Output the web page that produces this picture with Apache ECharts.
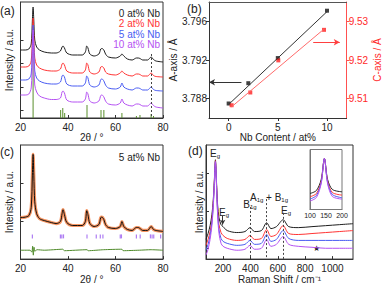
<!DOCTYPE html>
<html><head><meta charset="utf-8">
<script src="https://cdn.jsdelivr.net/npm/echarts@6/dist/echarts.min.js"></script>
<style>html,body{margin:0;padding:0;background:#fff}#c{width:383px;height:285px}</style>
</head><body><div id="c"></div>
<script>
// ---------- Panel (a): XRD patterns ----------
const twoTheta = [20,22,23.5,24.5,25,25.3,25.6,26,26.8,28,30,33,35,36.8,37.5,37.9,38.5,39.5,42,46,47.3,47.9,48.4,49.2,51,53,53.8,54.3,55.1,55.8,57,60,62,62.7,63.5,65,67,68.8,69.6,70.3,71.5,73.5,75,76,77,80];
const xrd0  = [68,68,69,74,98,111,98,78,71,68,66,65,65,67,71,72,70,65,63,63,66,72,70,64,62,64,69,69.5,68,64,61,60,62,64,62,59,58,60,60,59.5,58,58,61,58.5,57,56];
const xrd2  = [51,51,52,57,82,100,82,60,53,50,48,47,47,49,54,55,53,47,45,45,48,55,53,46,44,46,51,51.5,50,46,44,43,45,47,45,43,42,44,44,43.5,42,42,45,42.5,41.5,41];
const xrd5  = [38,38,39,44,72,93,72,47,40,37,35,34,34,36,42,43,41,34,32,32,35,42,40,33,31,33,38.5,39,37,33,30,29,31,35,31,29,28,30,30,29.5,28,28,31,28.5,27.5,27];
const xrd10 = [23,23,24,30,62,88,62,33,26,22,20,18.5,18.5,20,26,27,25,18,16,16,19,26,24,17,15,17,22.5,23,21,17,14,13,15,19,15,13,12,14,14,13.5,12,12,15,12.5,11,10];
const refPos = [25.3,36.9,37.8,38.6,48.0,53.9,55.1,62.7,68.8,70.3,75.0,76.0];
const refInt = [100,8,10,5,13,8,8,5,2,3,4,2];
const seriesNames = ['0 at% Nb','2 at% Nb','5 at% Nb','10 at% Nb'];

// ---------- Panel (b): lattice parameters ----------
const nbA = [0,2,5,10];
const aAxis = [3.7875,3.7896,3.7922,3.7971];
const nbC = [0.3,2.2,5.05,9.7];
const cAxis = [9.5083,9.5116,9.5199,9.5278];
const fitAx = [0,10];     const fitAy = [3.7874,3.7970];
const fitCx = [0.3,9.65]; const fitCy = [9.5079,9.5279];

// ---------- Panel (c): Rietveld refinement, 5 at% Nb ----------
const obs5 = [42,42.5,44,52,85,106,85,58,46,41,39,37,36,38,46,50,45,37,34,34,38,49,45,36,33,35,42,42.5,40,35,32,31,33,38,33,30,29,32,32,31,29,29,33,30,29,28];
const diffTheta = [20,24,24.8,25.1,25.4,25.7,26,27,30,37.8,38.5,48,48.5,55,62.7,63.2,70,75,80];
const diff5 = [9,9,7,13,4,12,8,9.5,9,10,8.5,9.5,8.5,9.5,10,8.5,9,9.5,9];
const braggPos = [25.0,36.8,37.4,38.1,48.0,51.9,53.6,54.7,62.0,62.5,68.8,70.4,74.7,75.4,76.1,79.0];

// ---------- Panel (d): Raman ----------
const ramanShift = [75,90,105,118,128,136,141,144,147,152,160,170,185,200,230,300,360,397,430,480,519,550,590,639,680,750,850,950,1050,1150];
const raman0  = [20,26,34,45,60,80,95,101,95,78,55,42,35,33,29,27,28,32,28,29,37,31,33,40,33,32,33,34,35,36];
const raman2  = [14,20,28,40,57,78,94,100,94,76,50,35,27,24,21,19,20,24,20,21,30,23,25,34,26,25,26,27,28,29];
const raman5  = [9,15,24,37,55,77,93,99,93,75,47,30,21,18,16,14,15,19,15,16,25,18,20,29,21,19,19,19,19,19];
const raman10 = [4,10,20,34,53,76,93,99,93,74,45,26,16,13,11,9,10,14,10,11,20,13,15,23,15,13,12,11,11,11];
const insetShift = [100,120,135,145,155,170,200];
const inset0  = [16,19,30,51,30,20,17.7];
const inset2  = [12.7,16,28,51,28,17,14.4];
const inset5  = [10.4,14,27,51,27,15,11.7];
const inset10 = [8.4,12,26,51,26,13,10.4];
const ramanModes = [397,519,639];

// ---------- styling ----------
const F = 'Liberation Sans, Arial, sans-serif';
const colors = ['#1e1e1e','#ff3434','#4a5cf2','#b552f2'];
const AX = '#333';
const zip = (xs, ys) => xs.map((x,i)=>[x, ys[i]]);

function xAx(g, o){
  return Object.assign({gridIndex:g,type:'value',splitLine:{show:false},
    axisLine:{show:true,onZero:false,lineStyle:{color:AX}},
    axisTick:{show:true,inside:true,length:3,lineStyle:{color:AX}},
    axisLabel:{fontSize:10,color:'#222',margin:4,fontFamily:F,showMinLabel:true,showMaxLabel:true},
    nameLocation:'middle',nameGap:13,nameTextStyle:{fontSize:10,color:'#222',fontFamily:F}}, o);
}
function yAx(g, o){
  return Object.assign({gridIndex:g,type:'value',splitLine:{show:false},
    axisLine:{show:true,onZero:false,lineStyle:{color:AX}},
    axisTick:{show:true,inside:true,length:3,lineStyle:{color:AX}},
    axisLabel:{show:false},
    nameLocation:'middle',nameRotate:90,nameGap:6,nameTextStyle:{fontSize:10,color:'#222',fontFamily:F}}, o);
}
const RICH = {m:{fontSize:10,fontFamily:F,fill:'#222'},s:{fontSize:6,fontFamily:F,fill:'#222',padding:[6,0,0,0]},p:{fontSize:10,fontFamily:F,fill:'#222'}};
function rtext(x,y,str){
  return {type:'text',x:x,y:y,style:{text:str,align:'center',verticalAlign:'middle',fill:'#222',font:'10px '+F,rich:RICH}};
}
function ptext(x,y,t,color,size,align){
  return {type:'text',x:x,y:y,style:{text:t,fill:color||'#222',font:(size||10)+'px '+F,align:align||'left',verticalAlign:'middle'}};
}

const chart = echarts.init(document.getElementById('c'), null, {renderer:'svg'});
const lineS = (xi, yi, data, color, w, extra) => Object.assign({type:'line',xAxisIndex:xi,yAxisIndex:yi,data:data,
  smooth:0.3,showSymbol:false,symbol:'none',lineStyle:{color:color,width:w||1},silent:true,animation:false}, extra||{});

const option = {
  animation:false,
  grid:[
    {left:20.5,top:2,width:142.5,height:116,show:true,borderColor:AX,borderWidth:1},
    {left:209,top:2,width:142.5,height:116,show:false},
    {left:20.5,top:145,width:142.5,height:115.5,show:true,borderColor:AX,borderWidth:1},
    {left:206,top:145,width:147,height:116,show:true,borderColor:AX,borderWidth:1},
    {left:310,top:149.5,width:32,height:60,show:true,borderColor:'#777',borderWidth:1}
  ],
  xAxis:[
    xAx(0,{min:20,max:80,interval:20,name:'2θ / °'}),
    xAx(1,{min:-2,max:12,name:'Nb Content / at%',
      axisTick:{show:true,inside:false,length:3,lineStyle:{color:AX},customValues:[0,5,10]},
      axisLabel:{fontSize:10,color:'#222',margin:4,fontFamily:F,customValues:[0,5,10]}}),
    xAx(2,{min:20,max:80,interval:20,name:'2θ / °'}),
    xAx(3,{min:75,max:1150,name:'Raman Shift / cm⁻¹',
      axisTick:{show:true,inside:true,length:3,lineStyle:{color:AX},customValues:[200,400,600,800,1000]},
      axisLabel:{fontSize:10,color:'#222',margin:4,fontFamily:F,customValues:[200,400,600,800,1000],formatter:v=>String(v)}}),
    xAx(4,{min:100,max:200,interval:50,axisLine:{show:true,lineStyle:{color:'#777'}},
      axisTick:{show:false},axisLabel:{fontSize:7,color:'#222',margin:2,fontFamily:F,showMinLabel:true,showMaxLabel:true}}),
    xAx(1,{min:-2,max:12,position:'top',axisTick:{show:false},axisLabel:{show:false},axisLine:{show:true,lineStyle:{color:'#555'}}})
  ],
  yAxis:[
    yAx(0,{min:0,max:116,name:'Intensity / a.u.',nameGap:6,axisTick:{show:true,inside:true,length:3,lineStyle:{color:AX},customValues:[8,31,55,78]}}),
    yAx(1,{min:3.786,max:3.798,name:'A-axis / Å',nameGap:25,
      axisTick:{show:true,inside:false,length:3,lineStyle:{color:AX},customValues:[3.788,3.792,3.796]},
      axisLabel:{show:true,fontSize:10,color:'#222',margin:2,fontFamily:F,customValues:[3.788,3.792,3.796],formatter:v=>v.toFixed(3)}}),
    yAx(1,{min:9.505,max:9.535,position:'right',name:'C-axis / Å',nameGap:21,
      axisLine:{show:true,onZero:false,lineStyle:{color:'#ff5050'}},
      nameTextStyle:{fontSize:10,color:'#ff2a2a',fontFamily:F},
      axisTick:{show:true,inside:false,length:3,lineStyle:{color:'#ff5050'},customValues:[9.51,9.52,9.53]},
      axisLabel:{show:true,fontSize:10,color:'#ff2a2a',margin:2,fontFamily:F,customValues:[9.51,9.52,9.53],formatter:v=>v.toFixed(2)}}),
    yAx(2,{min:0,max:115.5,name:'Intensity / a.u.',nameGap:6,axisTick:{show:true,inside:true,length:3,lineStyle:{color:AX},customValues:[38,77]}}),
    yAx(3,{min:0,max:116,name:'Intensity / a.u.',nameGap:2,axisTick:{show:true,inside:true,length:3,lineStyle:{color:AX},customValues:[11,49,87]}}),
    yAx(4,{min:0,max:60,axisLine:{show:true,lineStyle:{color:'#777'}},axisTick:{show:false}})
  ],
  series:[
    // (a)
    {type:'bar',xAxisIndex:0,yAxisIndex:0,data:zip(refPos,refInt),barWidth:1,itemStyle:{color:'#5a8f2c'},silent:true,animation:false},
    lineS(0,0,zip(twoTheta,xrd0),colors[0],1,{markLine:{silent:true,symbol:'none',label:{show:false},
      lineStyle:{color:'#444',type:[2,2],width:1},data:[[{coord:[75,64]},{coord:[75,0]}]]}}),
    lineS(0,0,zip(twoTheta,xrd2),colors[1]),
    lineS(0,0,zip(twoTheta,xrd5),colors[2]),
    lineS(0,0,zip(twoTheta,xrd10),colors[3]),
    // (b)
    lineS(1,1,zip(fitAx,fitAy),'#333',1,{smooth:false,markLine:{silent:true,symbol:['none','arrow'],symbolSize:[5,6],label:{show:false},
      lineStyle:{color:'#333',type:'solid',width:1},data:[[{coord:[1.3,3.7897]},{coord:[-2,3.7897]}]]}}),
    lineS(1,2,zip(fitCx,fitCy),'#ff6b6b',1,{smooth:false,markLine:{silent:true,symbol:['none','arrow'],symbolSize:[5,6],label:{show:false},
      lineStyle:{color:'#ff4040',type:'solid',width:1},data:[[{coord:[8.6,9.5246]},{coord:[11.3,9.5246]}]]}}),
    {type:'scatter',xAxisIndex:1,yAxisIndex:1,data:zip(nbA,aAxis),symbol:'rect',symbolSize:4,itemStyle:{color:'#111'},silent:true,animation:false},
    {type:'scatter',xAxisIndex:1,yAxisIndex:2,data:zip(nbC,cAxis),symbol:'rect',symbolSize:4,itemStyle:{color:'#ff2020'},silent:true,animation:false},
    // (c)
    lineS(2,3,zip(twoTheta,obs5),'rgba(245,130,70,0.85)',3.2),
    lineS(2,3,zip(twoTheta,obs5),'#111',1),
    lineS(2,3,zip(diffTheta,diff5),'#4f8a2a',1,{smooth:0.2}),
    {type:'scatter',xAxisIndex:2,yAxisIndex:3,data:braggPos.map(p=>[p,23]),symbol:'rect',symbolSize:[1.2,4],itemStyle:{color:'#9a5cf0'},silent:true,animation:false},
    // (d)
    lineS(3,4,zip(ramanShift,raman0),colors[0],1,{markLine:{silent:true,symbol:'none',label:{show:false},
      lineStyle:{color:'#444',type:[2,2],width:1},data:[
        [{coord:[ramanModes[0],53]},{coord:[ramanModes[0],0]}],
        [{coord:[ramanModes[1],61]},{coord:[ramanModes[1],0]}],
        [{coord:[ramanModes[2],47]},{coord:[ramanModes[2],0]}]]}}),
    lineS(3,4,zip(ramanShift,raman2),colors[1]),
    lineS(3,4,zip(ramanShift,raman5),colors[2]),
    lineS(3,4,zip(ramanShift,raman10),colors[3],1,{markLine:{silent:true,symbol:['none','arrow'],symbolSize:[4,5],label:{show:false},
      lineStyle:{color:'#333',type:'solid',width:1},data:[[{coord:[197,44]},{coord:[197,35]}]]}}),
    // inset
    lineS(4,5,zip(insetShift,inset0),colors[0]),
    lineS(4,5,zip(insetShift,inset2),colors[1]),
    lineS(4,5,zip(insetShift,inset5),colors[2]),
    lineS(4,5,zip(insetShift,inset10),colors[3])
  ],
  graphic:[
    ptext(0,11,'(a)','#222',12),
    ptext(187,9,'(b)','#222',12),
    ptext(0,152,'(c)','#222',12),
    ptext(188,151,'(d)','#222',12),
    ptext(160,13,seriesNames[0],colors[0],10,'right'),
    ptext(160,23.5,seriesNames[1],colors[1],10,'right'),
    ptext(160,34,seriesNames[2],colors[2],10,'right'),
    ptext(160,44.5,seriesNames[3],colors[3],10,'right'),
    ptext(160,157,'5 at% Nb','#222',10,'right'),
    rtext(215,153,'{m|E}{s|g}'),
    rtext(224,212,'{m|E}{s|g}'),
    rtext(250,204,'{m|B}{s|1g}'),
    rtext(269,197,'{m|A}{s|1g}{p| + }{m|B}{s|1g}'),
    rtext(286,210,'{m|E}{s|g}'),
    ptext(316,248,'★','#222',8,'center')
  ]
};
chart.setOption(option);
</script></body></html>
